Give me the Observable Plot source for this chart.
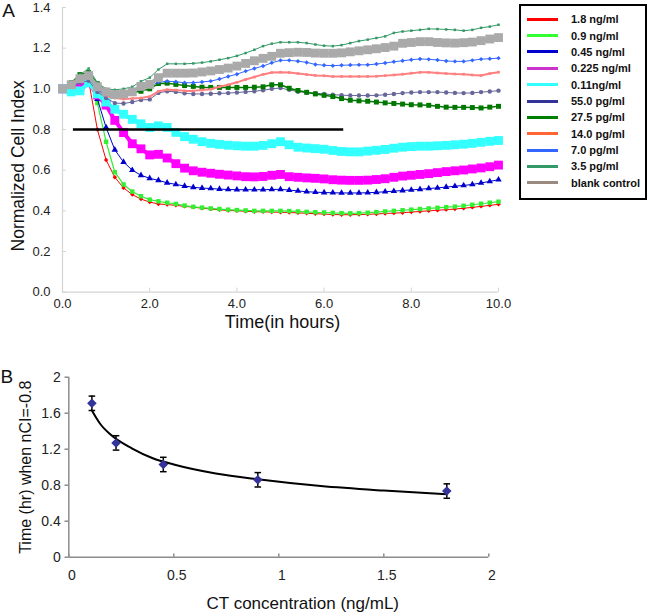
<!DOCTYPE html>
<html><head><meta charset="utf-8">
<script src="https://cdn.jsdelivr.net/npm/d3@7"></script>
<script src="https://cdn.jsdelivr.net/npm/@observablehq/plot@0.6"></script>
<style>
body{margin:0;background:#fff;font-family:"Liberation Sans",Arial,sans-serif;}
#wrap{position:relative;width:650px;height:613px;overflow:hidden;background:#fff;}
#a,#b{position:absolute;left:0;}
#a{top:0;} #b{top:340px;}
#legend{position:absolute;left:519px;top:4px;width:124px;height:192px;border:2px solid #000;background:#fff;}
.sw{position:absolute;left:6px;width:31px;height:3px;}
.lt{position:absolute;left:50px;font-weight:bold;font-size:11px;line-height:14px;color:#111;white-space:nowrap;}
</style></head>
<body><div id="wrap"><div id="a"></div><div id="b"></div><div id="legend"></div></div>
<script>
// ---------- Panel A data ----------
const times = [0,0.2,0.4,0.6,0.8,1.0,1.2,1.4,1.6,1.8,2.0,2.2,2.4,2.6,2.8,3.0,3.2,3.4,3.6,3.8,4.0,4.2,4.4,4.6,4.8,5.0,5.2,5.4,5.6,5.8,6.0,6.2,6.4,6.6,6.8,7.0,7.2,7.4,7.6,7.8,8.0,8.2,8.4,8.6,8.8,9.0,9.2,9.4,9.6,9.8,10.0];
const seriesLabels = ["1.8 ng/ml","0.9 ng/ml","0.45 ng/ml","0.225 ng/ml","0.11ng/ml","55.0 pg/ml","27.5 pg/ml","14.0 pg/ml","7.0 pg/ml","3.5 pg/ml","blank control"];
const lineColors = ["#ff0000","#33ee33","#0000cc","#ff00ff","#33ffff","#666699","#007700","#ff8080","#3366ff","#339966","#aaaaaa"];
const legendColors = ["#ff0000","#33ff33","#0000cc","#cc33cc","#33ffff","#333399","#008000","#ff6633","#3366ff","#339966","#9a8a80"];
const ng1_8 = [1.00,1.01,1.03,1.04,0.80,0.65,0.565,0.513,0.48,0.458,0.443,0.434,0.431,0.427,0.422,0.418,0.413,0.409,0.405,0.402,0.400,0.398,0.396,0.395,0.394,0.393,0.392,0.390,0.388,0.386,0.384,0.382,0.381,0.381,0.382,0.383,0.385,0.387,0.389,0.391,0.394,0.397,0.400,0.403,0.406,0.409,0.413,0.417,0.422,0.427,0.432];
const ng0_9 = [1.00,1.01,1.03,1.05,0.93,0.74,0.59,0.53,0.495,0.472,0.455,0.447,0.440,0.434,0.426,0.420,0.416,0.412,0.409,0.406,0.404,0.402,0.400,0.400,0.400,0.400,0.399,0.397,0.395,0.393,0.392,0.390,0.389,0.388,0.389,0.391,0.394,0.397,0.400,0.403,0.406,0.409,0.412,0.415,0.418,0.421,0.425,0.430,0.435,0.440,0.445];
const ng0_45 = [1.00,0.99,1.01,1.03,0.95,0.81,0.70,0.64,0.60,0.575,0.56,0.55,0.538,0.53,0.522,0.516,0.512,0.51,0.507,0.505,0.504,0.504,0.504,0.504,0.505,0.506,0.502,0.498,0.494,0.492,0.49,0.489,0.488,0.488,0.488,0.489,0.491,0.494,0.497,0.50,0.503,0.506,0.51,0.513,0.517,0.521,0.525,0.53,0.537,0.545,0.553];
const ng0_225 = [1.00,1.00,1.01,1.03,0.97,0.92,0.845,0.785,0.73,0.705,0.675,0.678,0.66,0.632,0.61,0.597,0.59,0.585,0.58,0.576,0.572,0.568,0.567,0.569,0.575,0.579,0.568,0.565,0.562,0.56,0.557,0.553,0.551,0.55,0.55,0.551,0.554,0.558,0.565,0.571,0.575,0.579,0.583,0.588,0.593,0.597,0.601,0.606,0.611,0.617,0.625];
const ng0_11 = [1.00,0.985,0.99,1.03,0.975,0.935,0.90,0.875,0.85,0.828,0.81,0.818,0.81,0.786,0.765,0.752,0.74,0.732,0.727,0.723,0.72,0.718,0.718,0.722,0.73,0.74,0.725,0.713,0.709,0.706,0.703,0.697,0.692,0.69,0.69,0.694,0.698,0.702,0.708,0.713,0.716,0.718,0.718,0.72,0.722,0.725,0.728,0.732,0.737,0.742,0.746];
const pg55 = [1.00,1.01,1.03,1.04,0.985,0.955,0.93,0.928,0.935,0.945,0.948,0.98,0.988,0.985,0.978,0.975,0.975,0.976,0.978,0.979,0.982,0.985,0.988,0.993,1.0,1.004,0.995,0.986,0.982,0.979,0.975,0.971,0.969,0.967,0.967,0.967,0.968,0.971,0.975,0.979,0.982,0.984,0.984,0.984,0.982,0.98,0.979,0.98,0.984,0.987,0.991];
const pg27_5 = [1.00,1.03,1.07,1.08,1.025,0.99,0.978,0.978,0.982,0.988,1.0,1.026,1.028,1.022,1.016,1.012,1.008,1.007,1.007,1.007,1.007,1.007,1.008,1.01,1.02,1.02,1.003,0.992,0.983,0.975,0.968,0.962,0.952,0.944,0.941,0.939,0.935,0.931,0.928,0.925,0.922,0.921,0.919,0.914,0.91,0.909,0.909,0.908,0.906,0.91,0.914];
const pg14 = [1.00,1.015,1.045,1.06,0.998,0.965,0.955,0.95,0.952,0.955,0.962,0.988,0.996,0.994,0.99,0.99,0.994,0.998,1.01,1.02,1.032,1.046,1.058,1.071,1.08,1.082,1.08,1.075,1.07,1.066,1.064,1.061,1.061,1.061,1.061,1.061,1.062,1.065,1.068,1.072,1.077,1.081,1.081,1.078,1.075,1.073,1.072,1.068,1.066,1.075,1.082];
const pg7 = [1.00,1.01,1.04,1.055,0.995,0.97,0.962,0.967,0.978,1.0,1.012,1.033,1.037,1.035,1.03,1.03,1.034,1.038,1.048,1.061,1.072,1.087,1.10,1.112,1.128,1.14,1.14,1.136,1.13,1.12,1.116,1.114,1.116,1.117,1.118,1.118,1.122,1.127,1.133,1.138,1.143,1.147,1.145,1.142,1.137,1.135,1.135,1.14,1.146,1.148,1.151];
const pg3_5 = [1.00,1.03,1.07,1.10,1.03,1.0,0.995,1.0,1.01,1.037,1.055,1.095,1.123,1.123,1.123,1.125,1.129,1.135,1.143,1.151,1.162,1.176,1.192,1.21,1.222,1.229,1.229,1.229,1.225,1.218,1.212,1.21,1.215,1.225,1.235,1.242,1.25,1.258,1.275,1.282,1.286,1.29,1.295,1.294,1.292,1.29,1.286,1.29,1.30,1.306,1.315];
const blank = [1.00,1.02,1.05,1.065,1.01,0.985,0.972,0.975,0.985,1.012,1.022,1.055,1.077,1.077,1.077,1.078,1.083,1.088,1.095,1.102,1.112,1.125,1.138,1.15,1.16,1.175,1.178,1.18,1.179,1.176,1.175,1.175,1.177,1.182,1.187,1.192,1.197,1.203,1.21,1.224,1.228,1.232,1.232,1.228,1.226,1.225,1.227,1.23,1.237,1.245,1.252];
const seriesValues = [ng1_8, ng0_9, ng0_45, ng0_225, ng0_11, pg55, pg27_5, pg14, pg7, pg3_5, blank];
const xTicksA = [0,2,4,6,8,10];
const yTicksA = [0,0.2,0.4,0.6,0.8,1.0,1.2,1.4];
const refLevel = 0.8, refStart = 0.25, refEnd = 6.45;

// ---------- Panel B data ----------
const concB = [0.11, 0.225, 0.45, 0.9, 1.8];
const timeB = [1.71, 1.27, 1.03, 0.86, 0.735];
const errB  = [0.08, 0.08, 0.08, 0.08, 0.08];
const fitX = [0.11,0.15,0.2,0.3,0.4,0.5,0.7,0.9,1.2,1.5,1.8];
const fitY = [1.63,1.48,1.36,1.21,1.10,1.03,0.93,0.865,0.79,0.74,0.70];
const xTicksB = [0,0.5,1,1.5,2];
const yTicksB = [0,0.4,0.8,1.2,1.6,2];

// ---------- styles per series ----------
const styleA = [
  {symbol:"diamond2", r:2.0, w:1},
  {symbol:"square", r:2.5, w:1.2},
  {symbol:"triangle", r:2.4, w:1},
  {symbol:"square", r:5.0, w:4},
  {symbol:"square", r:5.0, w:4},
  {symbol:"circle", r:2.2, w:1},
  {symbol:"square", r:2.8, w:1.5},
  {symbol:"square", r:1.5, w:2},
  {symbol:"diamond2", r:2.0, w:1},
  {symbol:"square", r:1.4, w:1},
  {symbol:"square", r:5.0, w:4}
];

const font = "Liberation Sans, Arial, sans-serif";
const axisA = "#d4d4d4";
const seriesMarks = [];
seriesValues.forEach((vals, k) => {
  const rows = vals.map((v, i) => ({t: times[i], v}));
  const st = styleA[k];
  seriesMarks.push(Plot.line(rows, {x:"t", y:"v", stroke: lineColors[k], strokeWidth: st.w}));
  seriesMarks.push(Plot.dot(rows, {x:"t", y:"v", symbol: st.symbol, r: st.r, fill: lineColors[k], stroke: "none"}));
});

const plotA = Plot.plot({
  width: 520, height: 340,
  marginLeft: 62, marginRight: 22, marginTop: 7, marginBottom: 48.3,
  x: {domain: [0, 10]},
  y: {domain: [0, 1.4]},
  style: {fontFamily: font, fontSize: "13px", color: "#222", background: "transparent", overflow: "visible"},
  marks: [
    Plot.ruleY([0], {stroke: axisA, strokeWidth: 1.2}),
    Plot.ruleX([0], {stroke: axisA, strokeWidth: 1.2}),
    Plot.ruleX(xTicksA, {x: d => d, y1: 0, y2: 0.02, stroke: axisA}),
    Plot.ruleY(yTicksA, {y: d => d, x1: 0, x2: 0.09, stroke: axisA}),
    Plot.axisX(xTicksA, {tickSize: 0, tickPadding: 7, tickFormat: d3.format(".1f"), label: null}),
    Plot.axisY(yTicksA, {tickSize: 0, tickPadding: 12, tickFormat: d3.format(".1f"), label: null}),
    ...seriesMarks,
    Plot.ruleY([refLevel], {x1: refStart, x2: refEnd, stroke: "#000", strokeWidth: 2.5}),
    Plot.text(["Time(in hours)"], {text: d => d, frameAnchor: "bottom", textAnchor: "middle", lineAnchor: "middle", dy: 30, dx: 2, fontSize: 18, fill: "#111"}),
    Plot.text(["Normalized Cell Index"], {text: d => d, frameAnchor: "left", textAnchor: "middle", lineAnchor: "middle", rotate: -90, dx: -44, dy: 16, fontSize: 17.5, fill: "#111"}),
    Plot.text(["A"], {text: d => d, frameAnchor: "top-left", textAnchor: "middle", lineAnchor: "middle", dx: -54, dy: 3, fontSize: 19, fill: "#111"})
  ]
});
document.getElementById("a").appendChild(plotA);

// ---------- legend ----------
const leg = document.getElementById("legend");
seriesLabels.forEach((lab, i) => {
  const cy = 19.3 + i * 16.34 - 6;
  const sw = document.createElement("div");
  sw.className = "sw"; sw.style.top = (cy - 1.5) + "px"; sw.style.background = legendColors[i];
  const tx = document.createElement("div");
  tx.className = "lt"; tx.style.top = (cy - 7) + "px"; tx.textContent = lab;
  leg.appendChild(sw); leg.appendChild(tx);
});

// ---------- Panel B ----------
const pts = concB.map((c, i) => ({c, t: timeB[i], e: errB[i]}));
const fit = fitX.map((x, i) => ({x, y: fitY[i]}));
const capSymbol = {draw(ctx, size) { const w = Math.sqrt(size) / 2; ctx.moveTo(-w, 0); ctx.lineTo(w, 0); }};
const axisB = "#8c8c8c";
const plotB = Plot.plot({
  width: 650, height: 273,
  marginLeft: 68.3, marginRight: 161.7, marginTop: 36.7, marginBottom: 56.3,
  x: {domain: [0, 2]},
  y: {domain: [0, 2]},
  style: {fontFamily: font, fontSize: "14px", color: "#222", background: "transparent", overflow: "visible"},
  marks: [
    Plot.ruleY([0], {stroke: axisB, strokeWidth: 1.5}),
    Plot.ruleX([0], {stroke: axisB, strokeWidth: 1.5}),
    Plot.ruleX(xTicksB, {x: d => d, y1: 0, y2: 0.035, stroke: axisB, strokeWidth: 1.5}),
    Plot.ruleY(yTicksB, {y: d => d, x1: 0, x2: -0.018, stroke: axisB, strokeWidth: 1.5}),
    Plot.axisX(xTicksB, {tickSize: 0, tickPadding: 13, dx: 3, tickFormat: d => String(d), label: null}),
    Plot.axisY(yTicksB, {tickSize: 0, tickPadding: 8, tickFormat: d => String(d), label: null}),
    Plot.line(fit, {x: "x", y: "y", curve: "monotone-x", stroke: "#000", strokeWidth: 2}),
    Plot.ruleX(pts, {x: "c", y1: d => d.t - d.e, y2: d => d.t + d.e, stroke: "#000", strokeWidth: 1.5}),
    Plot.dot(pts, {x: "c", y: d => d.t + d.e, symbol: capSymbol, r: 3.7, stroke: "#000", strokeWidth: 1.5, fill: "none"}),
    Plot.dot(pts, {x: "c", y: d => d.t - d.e, symbol: capSymbol, r: 3.7, stroke: "#000", strokeWidth: 1.5, fill: "none"}),
    Plot.dot(pts, {x: "c", y: "t", symbol: "diamond2", r: 4.3, fill: "#333399", stroke: "none"}),
    Plot.text(["CT concentration (ng/mL)"], {text: d => d, frameAnchor: "bottom", textAnchor: "middle", lineAnchor: "middle", dy: 46, dx: 24, fontSize: 17, fill: "#111"}),
    Plot.text(["Time (hr) when nCI=-0.8"], {text: d => d, frameAnchor: "left", textAnchor: "middle", lineAnchor: "middle", rotate: -90, dx: -43, dy: 0, fontSize: 16, fill: "#111"}),
    Plot.text(["B"], {text: d => d, frameAnchor: "top-left", textAnchor: "middle", lineAnchor: "middle", dx: -62, dy: 0, fontSize: 19, fill: "#111"})
  ]
});
document.getElementById("b").appendChild(plotB);
</script>
</body></html>
